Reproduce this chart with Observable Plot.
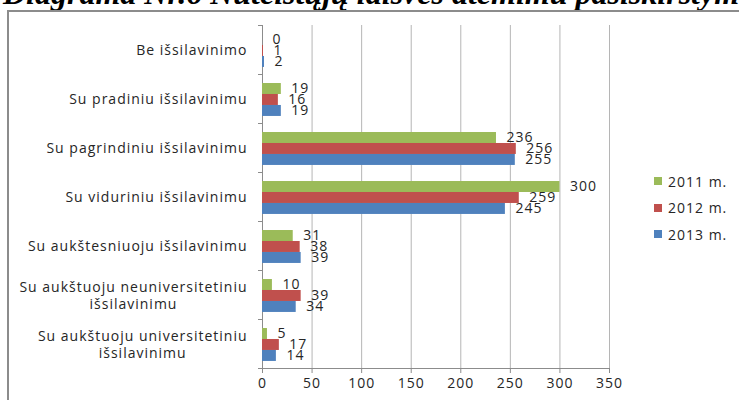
<!DOCTYPE html>
<html><head><meta charset="utf-8">
<script src="https://cdn.jsdelivr.net/npm/d3@7"></script>
<script src="https://cdn.jsdelivr.net/npm/@observablehq/plot@0.6"></script>
<style>
body{margin:0;background:#fff;}
#wrap{position:relative;width:739px;height:400px;overflow:hidden;background:#fff}
#title{position:absolute;left:3px;top:-23px;font:italic bold 32px/32px "Liberation Serif";white-space:nowrap;color:#000}
#frame{position:absolute;left:7px;top:10px;width:800px;height:500px;border-top:2px solid #8c8c8c;border-left:2px solid #8c8c8c}
#chart{position:absolute;left:0;top:0}
#legend{position:absolute;left:654px;top:168px;font:14px "Open Sans";letter-spacing:1px;color:#262626}
.li{display:flex;align-items:center;height:26.5px}
.sw{width:8px;height:8px;margin-right:6px}
svg text{letter-spacing:1px}
</style></head>
<body>
<div id="wrap">
  <div id="title">Diagrama Nr.6 Nuteistųjų laisvės atėmimu pasiskirstymas pagal išsilavinimą</div>
  <div id="frame"></div>
  <div id="chart"></div>
  <div id="legend"></div>
</div>
<script>
const categories = ["Be išsilavinimo","Su pradiniu išsilavinimu","Su pagrindiniu išsilavinimu","Su viduriniu išsilavinimu","Su aukštesniuoju išsilavinimu","Su aukštuoju neuniversitetiniu išsilavinimu","Su aukštuoju universitetiniu išsilavinimu"];
const categoryLabels = ["Be išsilavinimo","Su pradiniu išsilavinimu","Su pagrindiniu išsilavinimu","Su viduriniu išsilavinimu","Su aukštesniuoju išsilavinimu","Su aukštuoju neuniversitetiniu\nišsilavinimu","Su aukštuoju universitetiniu\nišsilavinimu"];
const series = ["2011 m.","2012 m.","2013 m."];
const v2011 = [0,19,236,300,31,10,5];
const v2012 = [1,16,256,259,38,39,17];
const v2013 = [2,19,255,245,39,34,14];
const xTicks = [0,50,100,150,200,250,300,350];
const colors = ["#9BBB59","#C0504D","#4F81BD"];

const values = [v2011, v2012, v2013];
const PAD = 0.184, BAR = 0.224;
const rows = categories.flatMap((c, i) => series.map((s, j) => ({cat: c, i, s, j, v: values[j][i]})));

const FONT = "Open Sans";
const ctx = document.createElement("canvas").getContext("2d");
ctx.font = `14px "${FONT}"`;
const textWidth = l => ctx.measureText(l).width + l.length * 1;

const labelMarks = categoryLabels.map((lab, i) => {
  const w = d3.max(lab.split("\n"), textWidth);
  return Plot.text([i], {frameAnchor: "left", y: d => d + 0.5, text: () => lab, textAnchor: "middle",
    dx: -(15 + w / 2), lineHeight: 1.2, fill: "#262626", fontSize: 14});
});

const plot = Plot.plot({
  width: 739, height: 400,
  marginLeft: 262, marginRight: 130, marginTop: 25, marginBottom: 32,
  style: {fontFamily: FONT, fontSize: "14px", background: "transparent", overflow: "visible"},
  x: {domain: [0, 350], axis: null},
  y: {domain: [7, 0], axis: null},
  color: {domain: series, range: colors},
  marks: [
    Plot.ruleX(xTicks, {stroke: "#b5b5b5"}),
    Plot.ruleX([0], {stroke: "#8c8c8c"}),
    Plot.ruleY([7], {stroke: "#8c8c8c"}),
    Plot.axisX({ticks: xTicks, tickSize: 5, tickPadding: 5, stroke: "#8c8c8c", fill: "#262626", fontSize: 14, label: null}),
    Plot.axisY({ticks: d3.range(8), tickSize: 4, tickFormat: () => "", stroke: "#8c8c8c", label: null}),
    Plot.rect(rows, {x1: 0, x2: "v", y1: d => d.i + PAD + d.j * BAR, y2: d => d.i + PAD + (d.j + 1) * BAR, fill: "s"}),
    Plot.text(rows, {x: "v", y: d => d.i + PAD + (d.j + 0.5) * BAR, text: d => String(d.v), dx: 10, textAnchor: "start", fill: "#262626", fontSize: 14}),
    ...labelMarks
  ]
});
document.getElementById("chart").appendChild(plot);

const legend = d3.select("#legend");
series.forEach((s, j) => {
  const r = legend.append("div").attr("class", "li");
  r.append("div").attr("class", "sw").style("background", colors[j]);
  r.append("span").text(s);
});
</script>
</body></html>
